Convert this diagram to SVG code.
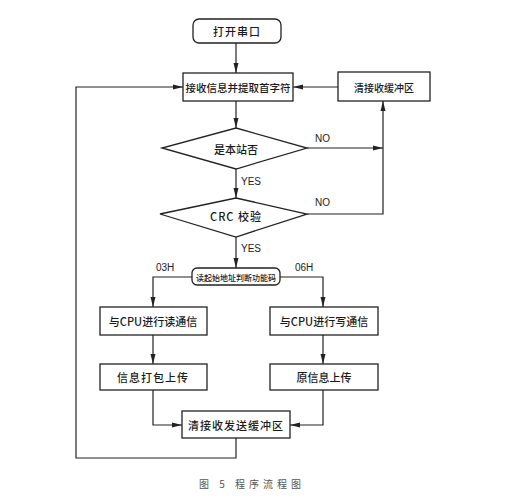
<svg xmlns="http://www.w3.org/2000/svg" width="531" height="504" viewBox="0 0 531 504">
<style>
.box{fill:#fff;stroke:#222;stroke-width:1.3}
.ln{fill:none;stroke:#222;stroke-width:1.2}
.t{font-family:"Noto Sans CJK SC","Noto Sans",sans-serif;font-size:11px;font-weight:500;fill:#1a1a1a;text-anchor:middle;dominant-baseline:central}
.s{font-family:"Liberation Sans",sans-serif;font-size:10px;fill:#222;dominant-baseline:central}
.cap{font-family:"Noto Sans CJK SC",sans-serif;font-size:10px;fill:#555;letter-spacing:4px;text-anchor:middle;dominant-baseline:central}
</style>
<defs>
<marker id="ah" viewBox="0 0 10 6" refX="10" refY="3" markerWidth="10" markerHeight="6" markerUnits="userSpaceOnUse" orient="auto">
<path d="M0,0.5 L10,3 L0,5.5 z" fill="#222"/>
</marker>
</defs>
<rect width="531" height="504" fill="#fff"/>
<g id="connectors">
<path class="ln" d="M236,43 V73" marker-end="url(#ah)"/>
<path class="ln" d="M338,87 H293" marker-end="url(#ah)"/>
<path class="ln" d="M236,101 V128" marker-end="url(#ah)"/>
<path class="ln" d="M307,148 H383" marker-end="url(#ah)"/>
<path class="ln" d="M307,214 H383 V101" marker-end="url(#ah)"/>
<path class="ln" d="M236,169 V198" marker-end="url(#ah)"/>
<path class="ln" d="M236,237 V268" marker-end="url(#ah)"/>
<path class="ln" d="M192,277 H153 V307" marker-end="url(#ah)"/>
<path class="ln" d="M280,277 H323 V307" marker-end="url(#ah)"/>
<path class="ln" d="M153,335 V364" marker-end="url(#ah)"/>
<path class="ln" d="M323,335 V364" marker-end="url(#ah)"/>
<path class="ln" d="M153,390 V425 H182" marker-end="url(#ah)"/>
<path class="ln" d="M323,390 V425 H290" marker-end="url(#ah)"/>
<path class="ln" d="M236,438 V458 H76 V87 H183" marker-end="url(#ah)"/>
<text class="s" x="315" y="138">NO</text>
<text class="s" x="315" y="202">NO</text>
<text class="s" x="241" y="181">YES</text>
<text class="s" x="241" y="248">YES</text>
<text class="s" x="156" y="267">03H</text>
<text class="s" x="295" y="267">06H</text>
</g>
<g id="start"><rect class="box" x="193" y="19" width="88" height="24" rx="6"/><text class="t" x="237" y="31" style="letter-spacing:1px">打开串口</text></g>
<g id="receive"><rect class="box" x="183" y="73" width="110" height="28"/><text class="t" x="238" y="87" style="font-size:10.5px">接收信息并提取首字符</text></g>
<g id="clear1"><rect class="box" x="338" y="72" width="92" height="29"/><text class="t" x="384" y="87" style="font-size:10px">清接收缓冲区</text></g>
<g id="station"><polygon class="box" points="236,128 307,148 236,169 162,148"/><text class="t" x="236" y="149">是本站否</text></g>
<g id="crc"><polygon class="box" points="236,198 307,214 236,237 160,214"/><text class="t" x="236" y="216" style="letter-spacing:1px">CRC 校验</text></g>
<g id="func"><rect class="box" x="192" y="268" width="88" height="17" rx="5"/><text class="t" x="236" y="277" style="font-size:8px">读起始地址判断功能码</text></g>
<g id="readcpu"><rect class="box" x="100" y="307" width="107" height="28"/><text class="t" x="153" y="321">与CPU进行读通信</text></g>
<g id="writecpu"><rect class="box" x="270" y="307" width="108" height="28"/><text class="t" x="324" y="321">与CPU进行写通信</text></g>
<g id="pack"><rect class="box" x="100" y="364" width="107" height="26"/><text class="t" x="153" y="377" style="letter-spacing:1px">信息打包上传</text></g>
<g id="orig"><rect class="box" x="270" y="364" width="108" height="26"/><text class="t" x="324" y="377">原信息上传</text></g>
<g id="clear2"><rect class="box" x="182" y="411" width="108" height="27"/><text class="t" x="236" y="425" style="letter-spacing:1px">清接收发送缓冲区</text></g>
<text class="cap" x="252" y="483">图 5 程序流程图</text>
</svg>
